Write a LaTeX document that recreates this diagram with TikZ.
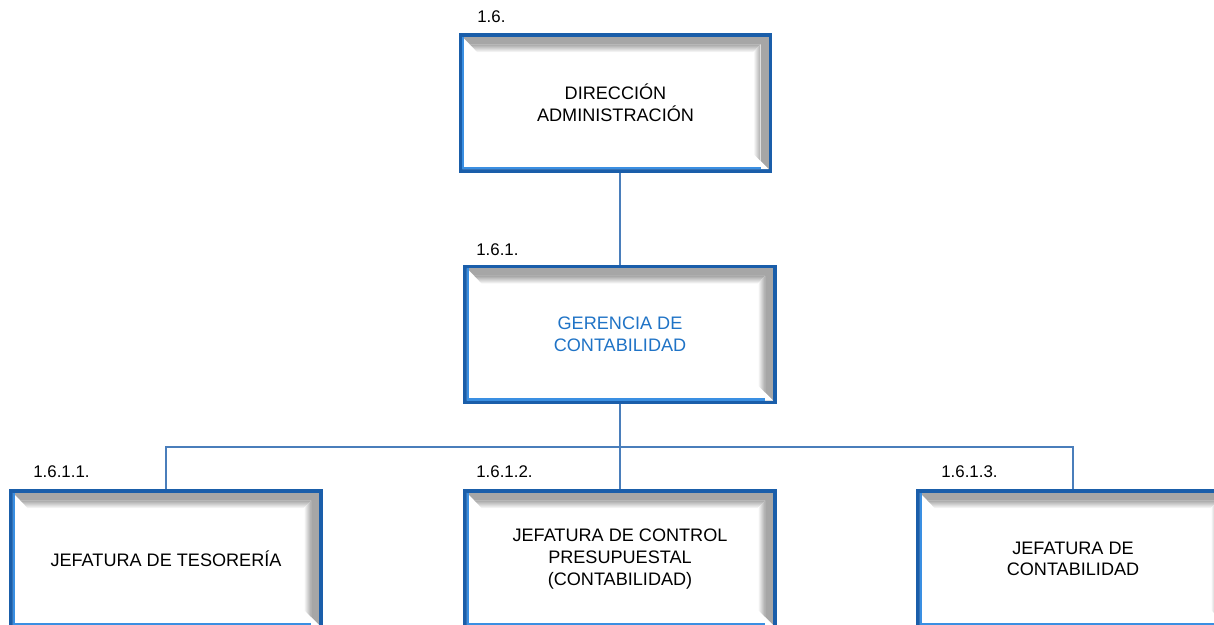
\documentclass[tikz,border=0pt]{standalone}
\usepackage{fontspec}
\setmainfont{Liberation Sans}
\usepackage{tikz}
\usetikzlibrary{arrows,positioning,calc}
\definecolor{bordeazul}{HTML}{1A5EAA}
\definecolor{lineaazul}{HTML}{4A7EBB}
\definecolor{celeste}{HTML}{3A8FE2}
\definecolor{textoazul}{HTML}{1F73C6}
\definecolor{biselosc}{HTML}{A6A6A6}
\definecolor{biselcla}{HTML}{F2F0F8}
\tikzset{
    %Define style for boxes
    caja/.style={
           draw=bordeazul,
           line width=2pt,
           fill=biselosc,
           minimum width=6.2cm,
           minimum height=2.72cm,
           align=center,
           font=\fontsize{10.3}{12.3}\selectfont},
    %Define style for the box texts
    texto/.style={
           align=center,
           font=\fontsize{10.3}{12.3}\selectfont},
    %Define style for the numbers
    etiqueta/.style={
           anchor=west,
           inner sep=0pt,
           font=\fontsize{9.6}{11}\selectfont},
    % Define line style
    linea/.style={
           draw=lineaazul,
           line width=1.1pt}
}
% White face and fading bevel of a box (in pt, from the box centre)
\newcommand{\bisel}[1]{%
  \begin{scope}[shift={(#1.center)}, x=1pt, y=1pt]
    \fill[white] (-87.2,37.6) -- (-83.0,33.4) -- (82.6,33.4) -- (82.6,-33.0)
                 -- (87.2,-37.6) -- (-87.2,-37.6) -- cycle;
    % fading part
    \shade[top color=biselosc, bottom color=white]
          (-83.0,33.4) -- (82.6,33.4) -- (78.4,28.9) -- (-78.6,28.9) -- cycle;
    \shade[left color=white, right color=biselosc]
          (82.6,33.4) -- (82.6,-33.0) -- (78.4,-28.9) -- (78.4,28.9) -- cycle;
    % light blue inner edge
    \draw[celeste, line width=1.3pt] (-86.6,37.6) -- (-86.6,-37.0) -- (82.6,-37.0);
  \end{scope}
}
\begin{document}
\begin{tikzpicture}[x=0.02cm, y=-0.02cm]
	\useasboundingbox (0,0) rectangle (1214,625);
	\clip (0,0) rectangle (1214,625);

	% Top node
	\node[caja](dir) at (615.5,103){};
	\node[etiqueta] at (477,17){1.6.};

	% Second level
	\node[caja](ger) at (620,334.5){};
	\node[etiqueta] at (476,250){1.6.1.};

	% Third level
	\node[caja](tes) at (166,559){};
	\node[caja](pre) at (620,559){};
	\node[caja](cont) at (1073,559){};
	\node[etiqueta] at (33,472){1.6.1.1.};
	\node[etiqueta] at (476,472){1.6.1.2.};
	\node[etiqueta] at (941,472){1.6.1.3.};

	% Bevels
	\foreach \n in {dir,ger,tes,pre,cont}
	    {\bisel{\n}}

	% Box texts
	\node[texto] at (dir){DIRECCIÓN\\ADMINISTRACIÓN};
	\node[texto, text=textoazul] at (ger){GERENCIA DE\\CONTABILIDAD};
	\node[texto] at (tes){JEFATURA DE TESORERÍA};
	\node[texto] at (pre){JEFATURA DE CONTROL\\PRESUPUESTAL\\(CONTABILIDAD)};
	\node[texto] at (cont){JEFATURA DE\\CONTABILIDAD};

	% Connectors
	\coordinate (bus) at ($(ger.south)+(0,43)$);
	\path[linea] (ger.north) -- (ger.north |- dir.south)
	             (ger.south) -- (pre.north);
	\path[linea] (tes.north) |- (bus)
	             (cont.north) |- (bus);

\end{tikzpicture}
\end{document}
